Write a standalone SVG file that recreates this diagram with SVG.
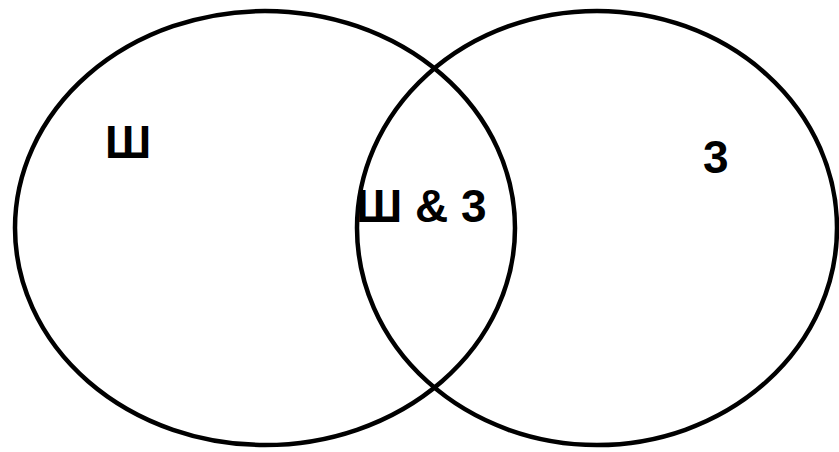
<svg xmlns="http://www.w3.org/2000/svg" width="839" height="452" viewBox="0 0 839 452">
<style>
.set{fill:none;stroke:#000;stroke-width:4.5}
.lbl{font-family:"Liberation Sans",Arial,sans-serif;font-weight:bold;font-size:46px;fill:#000}
</style>
<rect width="839" height="452" fill="#fff"/>
<g id="setA">
<ellipse class="set" cx="265" cy="228" rx="250" ry="217"/>
<text class="lbl" x="105" y="158">Ш</text>
</g>
<g id="setB">
<ellipse class="set" cx="597" cy="228" rx="240" ry="217"/>
<text class="lbl" x="703" y="173">3</text>
</g>
<g id="intersection">
<text class="lbl" x="356" y="222">Ш &amp; 3</text>
</g>
<g id="connectors"/>
</svg>
